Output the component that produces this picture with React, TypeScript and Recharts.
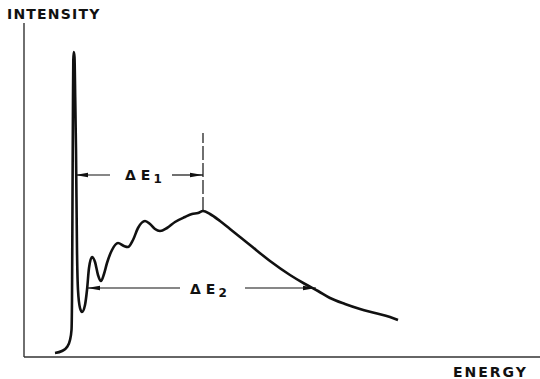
import { LineChart, Line, XAxis, YAxis, ReferenceLine, ReferenceDot } from 'recharts'

// arbitrary units
const energy = [
  31, 38, 43, 46, 47.5, 48, 48.5, 49, 49.3, 49.8, 50.5, 51.2, 52, 53, 54, 56, 58, 61, 63, 65, 68,
  71, 74, 77, 80, 83, 88, 94, 100, 104, 109, 114, 121, 126, 131, 136, 143, 151, 161, 168, 174,
  179, 186, 196, 206, 226, 246, 266, 281, 294, 306, 321, 336, 351, 366, 374,
]
const intensity = [
  4, 6, 10, 17, 27, 57, 157, 257, 297, 305, 300, 260, 207, 107, 67, 49, 45, 52, 67, 89, 100,
  95, 82, 76, 83, 94, 107, 114, 111, 110, 117, 129, 136, 133, 128, 126, 129, 135, 140, 143, 144,
  146, 143, 136, 128, 112, 96, 82, 73, 66, 59, 53, 48, 44, 40, 37,
]

// annotation anchors (same units)
const spikeE = 51
const maxE = 179
const maxI = 146
const dashTopI = 224
const dE1Level = 182
const dE1Gap = [86, 148]
const dE1LabelE = 101
const dE2Start = 63
const dE2End = 292
const dE2Level = 69
const dE2Gap = [156, 221]
const dE2LabelE = 166

const data = energy.map((e, i) => ({ energy: e, intensity: intensity[i] }))

const ink = '#111'

function Arrow(props: any) {
  const { x1, y1, x2, y2 } = props
  const dir = x2 > x1 ? 1 : -1
  const len = 13
  return (
    <g>
      <line x1={x1} y1={y1} x2={x2} y2={y2} stroke={ink} strokeWidth={1.2} />
      <polygon
        points={`${x2},${y2} ${x2 - dir * len},${y2 - 2.2} ${x2 - dir * len},${y2 + 2.2}`}
        fill={ink}
      />
    </g>
  )
}

function deltaLabel(sub: string) {
  return (props: any) => (
    <text
      x={props.cx}
      y={props.cy}
      dominantBaseline="central"
      fontFamily="DejaVu Sans"
      fontWeight="bold"
      fontSize={14}
      fill={ink}
    >
      <tspan>Δ</tspan>
      <tspan dx={5}>E</tspan>
      <tspan dx={3} dy={4} fontSize={12}>
        {sub}
      </tspan>
    </text>
  )
}

const titleStyle: React.CSSProperties = {
  position: 'absolute',
  fontFamily: 'DejaVu Sans',
  fontWeight: 'bold',
  fontSize: 14,
  lineHeight: '14px',
  color: ink,
}

export default function App() {
  return (
    <div style={{ position: 'absolute', left: 0, top: 0, width: 540, height: 379, background: '#fff' }}>
      <LineChart width={540} height={379} data={data} margin={{ top: 23, right: 0, bottom: 22, left: 24 }}>
        <XAxis type="number" dataKey="energy" domain={[0, 516]} allowDataOverflow hide />
        <YAxis type="number" domain={[0, 334]} allowDataOverflow hide />
        <ReferenceLine x={0} stroke="#333" strokeWidth={1.4} />
        <ReferenceLine y={0} stroke="#333" strokeWidth={1.4} />
        <ReferenceLine
          segment={[{ x: maxE, y: maxI }, { x: maxE, y: dashTopI }]}
          stroke={ink}
          strokeWidth={1.2}
          strokeDasharray="14 3"
        />
        <ReferenceLine segment={[{ x: dE1Gap[0], y: dE1Level }, { x: spikeE, y: dE1Level }]} shape={Arrow} />
        <ReferenceLine segment={[{ x: dE1Gap[1], y: dE1Level }, { x: maxE, y: dE1Level }]} shape={Arrow} />
        <ReferenceLine segment={[{ x: dE2Gap[0], y: dE2Level }, { x: dE2Start, y: dE2Level }]} shape={Arrow} />
        <ReferenceLine segment={[{ x: dE2Gap[1], y: dE2Level }, { x: dE2End, y: dE2Level }]} shape={Arrow} />
        <ReferenceDot x={dE1LabelE} y={dE1Level} r={0} shape={deltaLabel('1')} />
        <ReferenceDot x={dE2LabelE} y={dE2Level - 1} r={0} shape={deltaLabel('2')} />
        <Line
          type="monotone"
          dataKey="intensity"
          stroke={ink}
          strokeWidth={2.6}
          dot={false}
          isAnimationActive={false}
        />
      </LineChart>
      <div style={{ ...titleStyle, left: 7, top: 7, letterSpacing: 1.2 }}>INTENSITY</div>
      <div style={{ ...titleStyle, left: 453, top: 365, letterSpacing: 2 }}>ENERGY</div>
    </div>
  )
}
